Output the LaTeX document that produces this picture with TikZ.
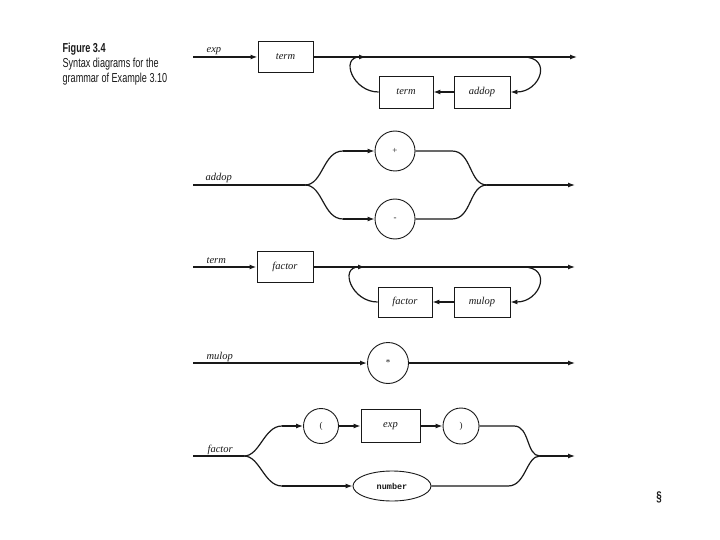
\documentclass[tikz,border=0pt]{standalone}
\usepackage{fontspec}
\setmainfont{Liberation Serif}
\setmonofont{Liberation Mono}
\newfontfamily\capfont[FakeStretch=0.7]{Liberation Sans}
\usetikzlibrary{shapes.geometric, arrows.meta, positioning}
\definecolor{ink}{RGB}{25,25,25}

\begin{document}
\begin{tikzpicture}[
    x=1pt, y=-1pt, line width=1.2pt, color=ink,
    %% caption lines
    capt/.style  = {font=\capfont\fontsize{13}{15}\selectfont,
                    anchor=base west, inner sep=0pt},
    %% rule name written over the entry line
    rname/.style = {font=\fontsize{10.5}{12}\selectfont\itshape,
                    anchor=base west, inner sep=0pt},
    %% nonterminal box
    ntbox/.style = {rectangle, draw=ink, line width=0.9pt,
                    minimum width=55pt, minimum height=31pt, inner sep=0pt,
                    font=\fontsize{10.5}{12}\selectfont\itshape},
    %% terminal circle
    tcirc/.style = {circle, draw=ink, line width=0.9pt,
                    minimum size=40pt, inner sep=0pt,
                    font=\fontsize{9}{10}\selectfont},
    %% terminal ellipse
    tell/.style  = {ellipse, draw=ink, line width=0.9pt,
                    minimum width=78pt, minimum height=30pt, inner sep=0pt,
                    font=\ttfamily\bfseries\fontsize{8.5}{10}\selectfont},
    arr/.style   = {-{Latex[length=7pt,width=5pt]}},
    entry/.style = {line width=2pt},
]
\useasboundingbox (0,0) rectangle (720,540);

%% ---- caption ----
\node[capt, font=\capfont\bfseries\fontsize{13}{15}\selectfont] (fig) at (62,53) {Figure 3.4};
\node[capt] (capa) at (62,68) {Syntax diagrams for the};
\node[capt] (capb) at (62,83) {grammar of Example 3.10};

%% ---- exp ----
\coordinate (expin)   at (193,57);
\node[rname] (explab) at (206,53) {exp};
\node[ntbox] (term1)  at (285.5,57) {term};
\node[ntbox, minimum width=54pt, minimum height=32pt] (term2)  at (406,92) {term};
\node[ntbox, minimum width=56pt, minimum height=32pt] (addop1) at (482,92) {addop};
\coordinate (expfork) at (523,57);
\coordinate (expjoin) at (366,57);
\coordinate (expout)  at (577,57);

\draw[arr, entry] (expin) -- (term1);
\draw[arr] (term1) -- (expout);
\draw[arr] (addop1) -- (term2);
\draw[arr] (expfork) .. controls +(30,0) and +(30,0) .. (addop1.east);
\draw[arr] (term2.west) .. controls +(-26,0) and +(-26,0) .. (expjoin);

%% ---- addop ----
\coordinate (addin)   at (193,185);
\node[rname] (addlab) at (205,181) {addop};
\coordinate (addfork) at (305,185);
\node[tcirc] (plus)   at (395,151) {+};
\node[tcirc] (minus)  at (395,219) {-};
\coordinate (plusin)   at (343,151);
\coordinate (minusin)  at (343,219);
\coordinate (plusout)  at (452,151);
\coordinate (minusout) at (452,219);
\coordinate (addjoin)  at (487,185);
\coordinate (addout)   at (575,185);

\draw[entry] (addin) -- (addfork);
\draw (addfork) .. controls +(18,0) and +(-20,0) .. (plusin);
\draw (addfork) .. controls +(18,0) and +(-20,0) .. (minusin);
\draw[arr] (plusin) -- (plus);
\draw[arr] (minusin) -- (minus);
\draw (plus) -- (plusout) .. controls +(20,0) and +(-18,0) .. (addjoin);
\draw (minus) -- (minusout) .. controls +(20,0) and +(-18,0) .. (addjoin);
\draw[arr] (addjoin) -- (addout);

%% ---- term ----
\coordinate (termin)   at (193,267);
\node[rname] (termlab) at (206,263) {term};
\node[ntbox, minimum width=56pt] (factor1) at (285,267) {factor};
\node[ntbox, minimum width=54pt, minimum height=30pt] (factor2) at (405,302) {factor};
\node[ntbox, minimum width=56pt, minimum height=30pt] (mulop1)  at (482,302) {mulop};
\coordinate (termfork) at (523,267);
\coordinate (termjoin) at (365,267);
\coordinate (termout)  at (575,267);

\draw[arr, entry] (termin) -- (factor1);
\draw[arr] (factor1) -- (termout);
\draw[arr] (mulop1) -- (factor2);
\draw[arr] (termfork) .. controls +(30,0) and +(30,0) .. (mulop1.east);
\draw[arr] (factor2.west) .. controls +(-26,0) and +(-26,0) .. (termjoin);

%% ---- mulop ----
\coordinate (mulin)   at (193,363);
\node[rname] (mullab) at (206,359) {mulop};
\node[tcirc, minimum size=41pt] (times) at (388,363) {*};
\coordinate (mulout)  at (575,363);

\draw[arr, entry] (mulin) -- (times);
\draw[arr] (times) -- (mulout);

%% ---- factor ----
\coordinate (facin)   at (193,456);
\node[rname] (faclab) at (207,452) {factor};
\coordinate (facfork) at (244,456);
\node[tcirc, minimum size=35pt] (lpar) at (321,426) {(};
\node[ntbox, minimum width=59pt, minimum height=33pt] (exp1) at (390.5,426) {exp};
\node[tcirc, minimum size=36pt] (rpar) at (461,426) {)};
\node[tell] (num) at (392,486) {number};
\coordinate (lparin)  at (282,426);
\coordinate (numin)   at (282,486);
\coordinate (rparout) at (514,426);
\coordinate (numout)  at (508,486);
\coordinate (facjoin) at (540,456);
\coordinate (facout)  at (575,456);

\draw[entry] (facin) -- (facfork);
\draw (facfork) .. controls +(16,0) and +(-18,0) .. (lparin);
\draw (facfork) .. controls +(16,0) and +(-18,0) .. (numin);
\draw[arr] (lparin) -- (lpar);
\draw[arr] (lpar) -- (exp1);
\draw[arr] (exp1) -- (rpar);
\draw[arr] (numin) -- (num);
\draw (rpar) -- (rparout) .. controls +(16,0) and +(-14,0) .. (facjoin);
\draw (num) -- (numout) .. controls +(18,0) and +(-14,0) .. (facjoin);
\draw[arr] (facjoin) -- (facout);

%% ---- page mark ----
\node[font=\capfont\bfseries\fontsize{14}{16}\selectfont] (sect) at (659,497) {\S};

\end{tikzpicture}
\end{document}
